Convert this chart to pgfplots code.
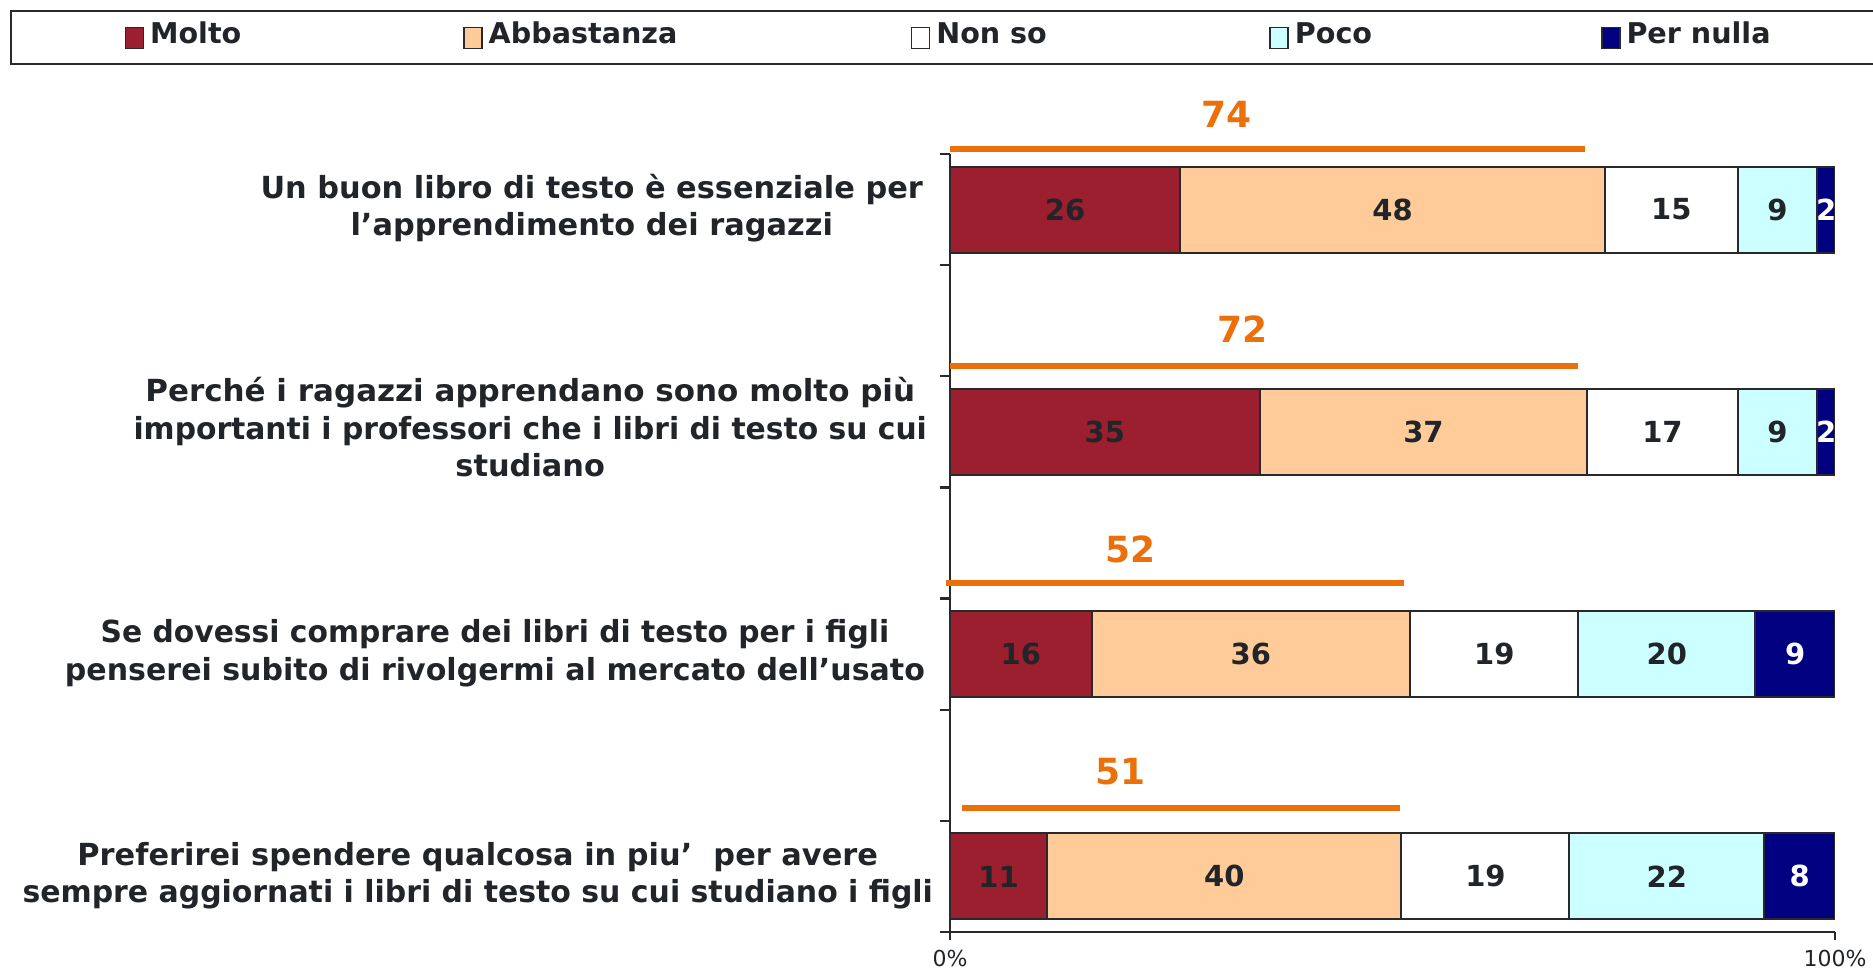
\documentclass[border=0pt]{standalone}
\usepackage{fontspec}
\setmainfont{DejaVu Sans}
\usepackage{pgfplots}
\usepackage{pgfplotstable}
\pgfplotsset{compat=1.18}

\definecolor{molto}{RGB}{155,31,46}
\definecolor{abba}{RGB}{255,204,153}
\definecolor{nonso}{RGB}{255,255,255}
\definecolor{poco}{RGB}{204,255,255}
\definecolor{nulla}{RGB}{0,0,128}
\definecolor{arancio}{RGB}{235,112,10}
\definecolor{testo}{RGB}{33,37,41}
\definecolor{bordo}{RGB}{40,40,45}

% etichetta di categoria centrata, spostata a destra di #1
\newcommand\etich[2]{\begin{tabular}{@{}c@{}}#2\end{tabular}\hspace*{-#1}}

% y: 0 = ultima domanda (in basso), 3 = prima domanda (in alto)
\pgfplotstableread{
y molto abba nonso poco nulla
0 11    40   19    22   8
1 16    36   19    20   9
2 35    37   17    9    2
3 26    48   15    9    2
}\dati

\begin{document}
\begin{tikzpicture}
\pgfplotsset{
  segm/.style={fill=#1, draw=bordo, line width=1pt},
  lbl/.style={draw=none, point meta=explicit,
    nodes near coords={\pgfmathprintnumber[assume math mode=true]{\pgfplotspointmeta}},
    every node near coord/.append style={anchor=center,
      font=\bfseries\fontsize{14.5}{17}\selectfont, text=#1}},
}
\begin{axis}[
  name=main,
  scale only axis, width=442.5pt, height=389pt,
  xbar stacked, bar width=0.387,
  xmin=0, xmax=100, ymin=-0.25, ymax=3.25,
  axis x line*=bottom, axis y line*=left,
  axis line style={draw=bordo, line width=1.2pt},
  xtick={0,100}, xticklabels={0\%,100\%},
  ytick={0,1,2,3},
  yticklabels={
    {\etich{5pt}{Preferirei spendere qualcosa in piu’\ \ per avere\\\scalebox{0.984}[1]{sempre aggiornati i libri di testo su cui studiano i figli}}},
    {\etich{1pt}{\scalebox{0.979}[1]{Se dovessi comprare dei libri di testo per i figli}\\\scalebox{0.988}[1]{penserei subito di rivolgermi al mercato dell’usato}}},
    {\etich{2pt}{\scalebox{1.019}[1]{Perché i ragazzi apprendano sono molto più}\\\scalebox{0.979}[1]{importanti i professori che i libri di testo su cui}\\studiano}},
    {\etich{0pt}{Un buon libro di testo è essenziale per\\l’apprendimento dei ragazzi}}},
  minor ytick={-0.25,0.25,0.75,1.25,1.75,2.25,2.75,3.25},
  tick align=outside, major tick length=4pt, minor tick length=5pt,
  tick style={draw=bordo, line width=1.2pt},
  major y tick style={draw=none},
  yticklabel style={font=\bfseries\fontsize{15.2}{18.8}\selectfont, text=testo, xshift=-6pt},
  xticklabel style={font=\fontsize{11}{13}\selectfont, text=testo, yshift=-1.5pt},
  legend columns=5,
  legend style={at={(-1.0621,1.1851)}, anchor=north west, draw=bordo, line width=1pt,
    inner xsep=56.75pt, inner ysep=6.5pt,
    font=\bfseries\fontsize{14.3}{17}\selectfont, text=testo,
    /tikz/every even column/.append style={column sep=0pt},
    nodes={inner xsep=3pt, inner ysep=0pt, text height=10pt, text depth=3.5pt}},
  legend image code/.code={\draw[#1, line width=0.8pt, draw=bordo] (0pt,-5.5pt) rectangle (9pt,5pt);},
]
\addplot[segm=molto] table[x=molto, y=y] {\dati};
\addlegendentry{\makebox[153.5pt][l]{Molto}}
\addplot[segm=abba] table[x=abba, y=y] {\dati};
\addlegendentry{\makebox[208pt][l]{Abbastanza}}
\addplot[segm=nonso] table[x=nonso, y=y] {\dati};
\addlegendentry{\makebox[163.5pt][l]{Non so}}
\addplot[segm=poco] table[x=poco, y=y] {\dati};
\addlegendentry{\makebox[150pt][l]{Poco}}
\addplot[segm=nulla] table[x=nulla, y=y] {\dati};
\addlegendentry{\makebox[75pt][l]{Per nulla}}
\end{axis}

% etichette dei segmenti, linee arancioni e totali (Molto + Abbastanza)
\begin{axis}[
  scale only axis, width=442.5pt, height=389pt,
  xmin=0, xmax=100, ymin=-0.25, ymax=3.25,
  axis lines=none, clip=false,
]
\addplot[lbl=testo] table[x expr=\thisrow{molto}/2, y=y, meta=molto] {\dati};
\addplot[lbl=testo] table[x expr=\thisrow{molto}+\thisrow{abba}/2, y=y, meta=abba] {\dati};
\addplot[lbl=testo] table[x expr=\thisrow{molto}+\thisrow{abba}+\thisrow{nonso}/2, y=y, meta=nonso] {\dati};
\addplot[lbl=testo] table[x expr=\thisrow{molto}+\thisrow{abba}+\thisrow{nonso}+\thisrow{poco}/2, y=y, meta=poco] {\dati};
\addplot[lbl=white] table[x expr=100-\thisrow{nulla}/2, y=y, meta=nulla] {\dati};

\addplot[arancio, line width=3pt] coordinates {(0,3.272) (71.7,3.272)};
\addplot[arancio, line width=3pt] coordinates {(0,2.295) (71.0,2.295)};
\addplot[arancio, line width=3pt] coordinates {(-0.4,1.32) (51.3,1.32)};
\addplot[arancio, line width=3pt] coordinates {(1.3,0.31) (50.9,0.31)};
\addplot[draw=none, point meta=explicit,
  nodes near coords={\pgfmathprintnumber[assume math mode=true]{\pgfplotspointmeta}},
  every node near coord/.append style={anchor=center, font=\bfseries\fontsize{18}{20}\selectfont, text=arancio}]
  coordinates {(31.2,3.43)[74] (33,2.464)[72] (20.4,1.47)[52] (19.3,0.47)[51]};
\end{axis}

\pgfresetboundingbox
\path ([shift={(-475pt,-19pt)}]main.south west) rectangle ([shift={(461.5pt,466pt)}]main.south west);
\end{tikzpicture}
\end{document}
